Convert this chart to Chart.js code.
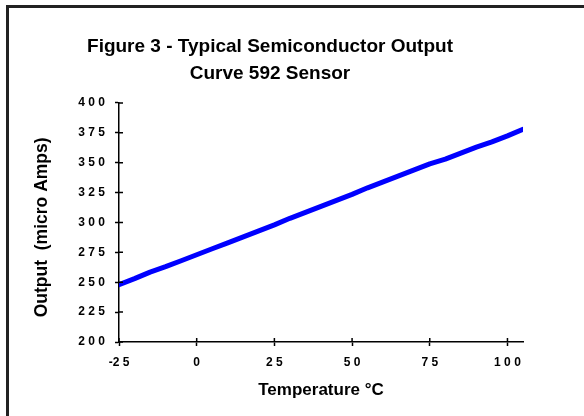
<!DOCTYPE html>
<html>
<head>
<meta charset="utf-8">
<script src="https://cdn.jsdelivr.net/npm/chart.js@4.4.1/dist/chart.umd.min.js"></script>
<style>
  html, body { margin: 0; padding: 0; background: #fff; overflow: hidden; }
  canvas { display: block; }
</style>
</head>
<body>
<canvas id="myChart" width="584" height="416"></canvas>
<script>
// values
let temps = [-25, -20, -15, -10, -5, 0, 5, 10, 15, 20, 25, 30, 35, 40, 45, 50, 55, 60, 65, 70, 75, 80, 85, 90, 95, 100, 105];
let output = [248, 253, 258.5, 263, 268, 273, 278, 283, 288, 293, 298, 303.5, 308.5, 313.5, 318.5, 323.5, 329, 334, 339, 344, 349, 353, 358, 363, 367.5, 372.5, 378];
let xTicks = [-25, 0, 25, 50, 75, 100];
let yTicks = [200, 225, 250, 275, 300, 325, 350, 375, 400];
let titleLines = ["Figure 3 - Typical Semiconductor Output", "Curve 592 Sensor"];
let xTitle = "Temperature \u00B0C";
let yTitle = "Output  (micro Amps)  ";

const FONT = "'Liberation Sans', Arial, sans-serif";

// spaced digits like the original
function spaced(v) {
    let s = String(v);
    let sign = s[0] == '-' ? '-' : '';
    return sign + s.replace('-', '').split('').join(' ');
}

// white page + the chart frame (only top and left edges are inside the picture)
const frame = {
    id: 'frame',
    beforeDraw(chart) {
        const ctx = chart.ctx;
        ctx.save();
        ctx.fillStyle = '#fff';
        ctx.fillRect(0, 0, chart.width, chart.height);
        ctx.fillStyle = '#222';
        ctx.fillRect(6, 5, chart.width - 6, 3);
        ctx.fillRect(6, 5, 3, chart.height - 5);
        ctx.restore();
    }
};

// tick marks that cross the axis line
const crossTicks = {
    id: 'crossTicks',
    afterDraw(chart) {
        const ctx = chart.ctx;
        const xs = chart.scales.x, ys = chart.scales.y;
        ctx.save();
        ctx.strokeStyle = '#000';
        ctx.lineWidth = 1.5;
        ctx.beginPath();
        xTicks.forEach(t => {
            let px = xs.getPixelForValue(t);
            ctx.moveTo(px, ys.bottom);
            ctx.lineTo(px, ys.bottom - 4);
        });
        yTicks.forEach(t => {
            let py = ys.getPixelForValue(t);
            ctx.moveTo(xs.left, py);
            ctx.lineTo(xs.left + 4, py);
        });
        ctx.stroke();
        ctx.restore();
    }
};

const ctx = document.getElementById('myChart').getContext('2d');
const myChart = new Chart(ctx, {
    type: 'line',
    data: {
        datasets: [{
            data: temps.map((t, i) => ({ x: t, y: output[i] })),
            borderColor: "#0000FF",
            backgroundColor: "#0000FF",
            borderWidth: 5,
            borderCapStyle: 'round',
            borderJoinStyle: 'round',
            pointRadius: 0,
            tension: 0
        }]
    },
    options: {
        responsive: false,
        animation: false,
        layout: { padding: { left: 17, right: 61, top: 0, bottom: 0 } },
        plugins: {
            legend: { display: false },
            tooltip: { enabled: false },
            title: {
                display: true,
                text: titleLines,
                color: '#000',
                font: { family: FONT, size: 19, weight: 'bold', lineHeight: 1.42 },
                padding: { top: 33, bottom: 16 }
            }
        },
        scales: {
            x: {
                type: 'linear',
                min: -25,
                max: 105,
                afterBuildTicks: (scale) => { scale.ticks = xTicks.map(v => ({ value: v })); },
                afterFit: (scale) => { scale.height = 74; },
                border: { color: '#000', width: 1.5 },
                grid: { drawOnChartArea: false, drawTicks: true, tickLength: 4, tickColor: '#000', tickWidth: 1.5 },
                ticks: {
                    color: '#000',
                    padding: 9,
                    maxRotation: 0,
                    font: { family: FONT, size: 12, weight: 'bold' },
                    callback: (v) => spaced(v)
                },
                title: {
                    display: true,
                    text: xTitle,
                    color: '#000',
                    font: { family: FONT, size: 17, weight: 'bold', lineHeight: 1.2 },
                    padding: { top: 0, bottom: 15.5 }
                }
            },
            y: {
                type: 'linear',
                min: 200,
                max: 400,
                afterBuildTicks: (scale) => { scale.ticks = yTicks.map(v => ({ value: v })); },
                afterFit: (scale) => { scale.width = 102; },
                border: { color: '#000', width: 1.5 },
                grid: { drawOnChartArea: false, drawTicks: true, tickLength: 4, tickColor: '#000', tickWidth: 1.5 },
                ticks: {
                    color: '#000',
                    padding: 10,
                    font: { family: FONT, size: 12, weight: 'bold' },
                    callback: (v) => spaced(v)
                },
                title: {
                    display: true,
                    text: yTitle,
                    color: '#000',
                    font: { family: FONT, size: 17.5, weight: 'bold', lineHeight: 1.2 },
                    padding: { top: 14.5, bottom: 0 }
                }
            }
        }
    },
    plugins: [frame, crossTicks]
});
</script>
</body>
</html>
